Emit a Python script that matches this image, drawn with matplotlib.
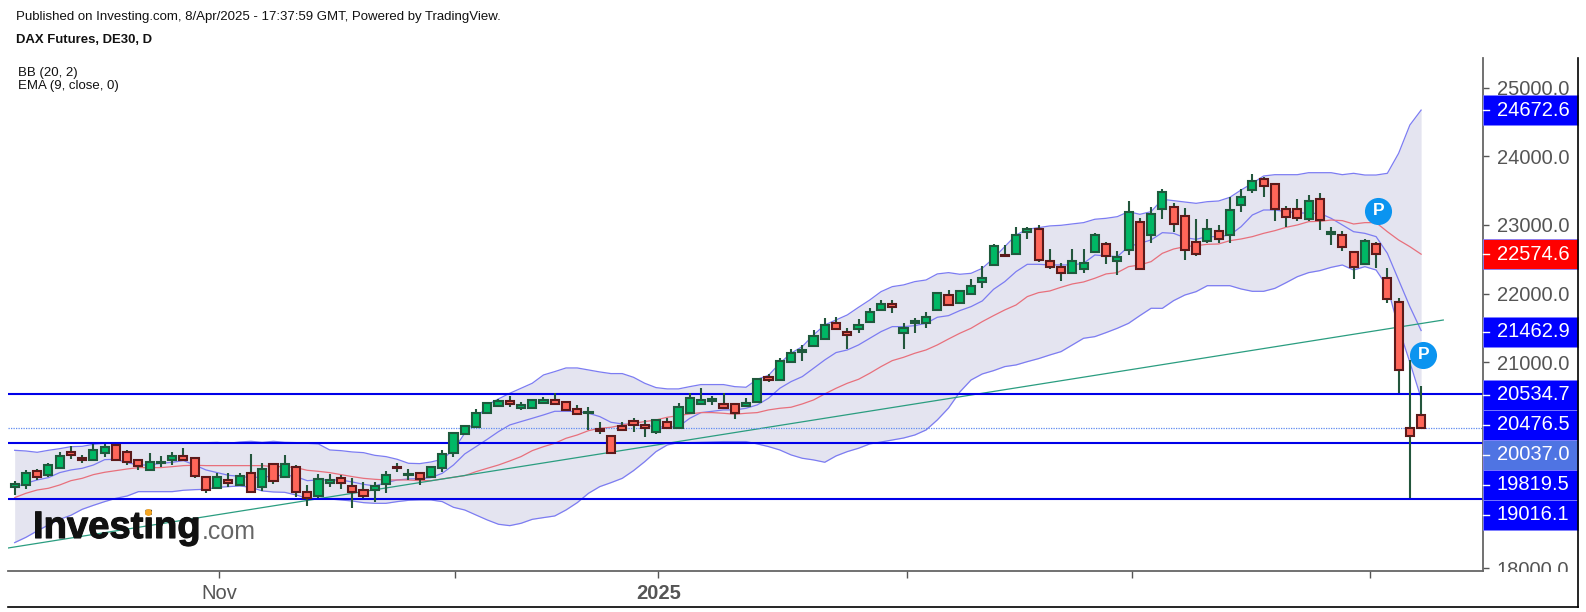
import numpy as np
import matplotlib
matplotlib.use('Agg')
import matplotlib.pyplot as plt
import matplotlib.patheffects as pe
from matplotlib.patches import Rectangle
from matplotlib.lines import Line2D

plt.rcParams['font.family'] = ['Liberation Sans', 'DejaVu Sans']

W, H = 1586, 612

# daily candles
opens = [
	19190, 19219, 19413, 19355, 19462, 19695, 19607, 19573, 19685, 19797, 19690, 19578, 19438, 19535, 19583, 19632, 19607, 19331,
	19166, 19282, 19219, 19384, 19190, 19525, 19331, 19472, 19117, 19054, 19248, 19311, 19200, 19142, 19137, 19224, 19481, 19355,
	19389, 19331, 19467, 19686, 19953, 20064, 20258, 20365, 20438, 20341, 20336, 20414, 20452, 20428, 20321, 20258, 20030, 19933,
	20069, 20152, 20093, 19982, 20127, 20045, 20258, 20399, 20443, 20399, 20399, 20360, 20418, 20787, 20748, 21001, 21151, 21238,
	21345, 21578, 21442, 21486, 21593, 21758, 21850, 21433, 21568, 21568, 21758, 21981, 21869, 22000, 22165, 22413, 22563, 22578,
	22903, 22937, 22471, 22393, 22306, 22359, 22607, 22719, 22471, 22636, 23049, 22859, 23232, 23266, 23131, 22747, 22767, 22907,
	22849, 23286, 23504, 23674, 23596, 23237, 23237, 23087, 23373, 22873, 22859, 22606, 22437, 22718, 22223, 21874, 20039, 20233]
highs = [
	19277, 19433, 19452, 19540, 19700, 19782, 19646, 19811, 19806, 19811, 19724, 19578, 19675, 19641, 19695, 19753, 19617, 19331,
	19394, 19394, 19394, 19671, 19530, 19525, 19646, 19506, 19209, 19375, 19375, 19365, 19311, 19258, 19258, 19423, 19535, 19447,
	19389, 19472, 19724, 19991, 20088, 20326, 20414, 20462, 20511, 20428, 20462, 20491, 20549, 20428, 20375, 20346, 20132, 19933,
	20132, 20185, 20161, 20181, 20185, 20404, 20549, 20622, 20515, 20549, 20399, 20486, 20753, 20836, 21059, 21200, 21253, 21471,
	21641, 21665, 21500, 21636, 21797, 21908, 21908, 21578, 21641, 21738, 22010, 22049, 22034, 22209, 22398, 22723, 22704, 22976,
	22966, 22995, 22646, 22452, 22646, 22646, 22888, 22753, 22617, 23354, 23107, 23266, 23519, 23325, 23242, 23082, 23082, 23000,
	23402, 23519, 23737, 23703, 23596, 23271, 23383, 23436, 23465, 22970, 22917, 22606, 22801, 22747, 22369, 21932, 21034, 20656]
lows = [
	19074, 19161, 19287, 19326, 19462, 19598, 19540, 19573, 19622, 19573, 19510, 19433, 19438, 19481, 19510, 19569, 19321, 19103,
	19166, 19190, 19200, 19112, 19132, 19234, 19331, 19044, 18913, 19020, 19180, 19161, 18884, 19020, 18962, 19103, 19404, 19287,
	19209, 19331, 19404, 19627, 19953, 20064, 20258, 20365, 20355, 20307, 20336, 20394, 20389, 20312, 20253, 20016, 19953, 19686,
	20011, 19982, 19919, 19953, 20025, 20045, 20258, 20389, 20384, 20326, 20171, 20360, 20418, 20714, 20748, 21001, 21015, 21238,
	21345, 21486, 21195, 21423, 21593, 21758, 21724, 21200, 21423, 21505, 21758, 21840, 21869, 22000, 22078, 22413, 22544, 22578,
	22791, 22461, 22355, 22190, 22306, 22306, 22607, 22437, 22272, 22568, 22364, 22733, 23092, 22893, 22485, 22543, 22733, 22733,
	22733, 23189, 23470, 23412, 23063, 22975, 23063, 23063, 22927, 22708, 22626, 22213, 22437, 22378, 21859, 20549, 19020, 20039]
closes = [
	19229, 19394, 19326, 19501, 19637, 19656, 19573, 19719, 19772, 19573, 19544, 19496, 19549, 19554, 19632, 19578, 19350, 19137,
	19336, 19248, 19341, 19112, 19442, 19268, 19525, 19112, 19030, 19307, 19282, 19248, 19108, 19054, 19200, 19365, 19462, 19375,
	19307, 19472, 19661, 19967, 20074, 20268, 20404, 20433, 20389, 20375, 20452, 20452, 20389, 20312, 20253, 20283, 20006, 19686,
	20011, 20093, 20045, 20156, 20045, 20346, 20481, 20457, 20462, 20336, 20258, 20409, 20753, 20744, 21025, 21137, 21175, 21384,
	21544, 21486, 21399, 21544, 21738, 21845, 21806, 21496, 21607, 21656, 22010, 21840, 22034, 22117, 22228, 22694, 22544, 22854,
	22947, 22495, 22389, 22306, 22471, 22447, 22854, 22549, 22529, 23189, 22364, 23155, 23485, 23014, 22631, 22572, 22936, 22796,
	23213, 23402, 23645, 23562, 23232, 23121, 23097, 23349, 23067, 22898, 22684, 22383, 22771, 22577, 21922, 20884, 19928, 20037]

# bollinger bands and the ema, one reading per candle
bb_upper = [
	19719, 19709, 19690, 19719, 19743, 19772, 19777, 19806, 19821, 19821, 19825, 19825, 19830, 19830, 19825, 19825, 19825, 19830,
	19835, 19821, 19840, 19850, 19835, 19850, 19835, 19831, 19821, 19811, 19724, 19714, 19695, 19685, 19646, 19627, 19588, 19530,
	19525, 19549, 19588, 19724, 19967, 20161, 20380, 20467, 20549, 20622, 20695, 20816, 20865, 20918, 20918, 20889, 20860, 20836,
	20836, 20782, 20695, 20632, 20613, 20613, 20646, 20676, 20676, 20676, 20646, 20637, 20753, 20810, 20986, 21132, 21229, 21399,
	21544, 21617, 21690, 21801, 21908, 22029, 22102, 22127, 22175, 22199, 22287, 22306, 22282, 22296, 22369, 22515, 22685, 22854,
	22937, 22961, 22986, 22995, 23015, 23034, 23083, 23097, 23121, 23194, 23155, 23194, 23373, 23354, 23334, 23315, 23339, 23349,
	23402, 23509, 23606, 23713, 23732, 23732, 23732, 23761, 23761, 23761, 23732, 23752, 23727, 23727, 23752, 24043, 24455, 24672.6]
bb_lower = [
	18375, 18452, 18545, 18632, 18714, 18773, 18860, 18918, 18972, 19020, 19054, 19117, 19117, 19117, 19117, 19137, 19146, 19151,
	19180, 19190, 19200, 19180, 19127, 19112, 19107, 19069, 19020, 19015, 19010, 18996, 18981, 18957, 18947, 18947, 18972, 18991,
	18996, 18996, 18972, 18889, 18850, 18777, 18705, 18642, 18622, 18656, 18714, 18739, 18763, 18850, 18957, 19093, 19190, 19248,
	19311, 19423, 19554, 19700, 19797, 19831, 19831, 19836, 19841, 19846, 19846, 19846, 19812, 19773, 19724, 19652, 19603, 19579,
	19545, 19637, 19700, 19749, 19812, 19840, 19869, 19898, 19942, 20015, 20161, 20335, 20568, 20743, 20831, 20879, 20938, 20962,
	21010, 21054, 21107, 21156, 21253, 21350, 21374, 21433, 21496, 21568, 21680, 21787, 21786, 21898, 21980, 22029, 22116, 22116,
	22116, 22068, 22034, 22034, 22077, 22160, 22247, 22306, 22335, 22383, 22417, 22344, 22393, 22344, 22100, 21500, 21000, 20476.5]
bb_basis = [
	19030, 19093, 19141, 19166, 19214, 19277, 19311, 19365, 19399, 19423, 19447, 19467, 19467, 19467, 19481, 19496, 19501, 19496,
	19496, 19496, 19496, 19496, 19496, 19481, 19481, 19467, 19428, 19413, 19394, 19365, 19336, 19311, 19297, 19287, 19287, 19287,
	19277, 19277, 19302, 19326, 19350, 19408, 19457, 19505, 19564, 19627, 19714, 19772, 19821, 19894, 19942, 20005, 20040, 20054,
	20088, 20113, 20137, 20161, 20200, 20224, 20249, 20268, 20268, 20258, 20244, 20258, 20268, 20307, 20331, 20346, 20394, 20452,
	20540, 20622, 20695, 20753, 20841, 20938, 21025, 21073, 21132, 21180, 21253, 21340, 21423, 21496, 21593, 21680, 21763, 21835,
	21957, 22015, 22039, 22093, 22141, 22170, 22224, 22287, 22306, 22393, 22418, 22466, 22587, 22650, 22684, 22699, 22718, 22723,
	22771, 22796, 22830, 22878, 22917, 22966, 23000, 23048, 23053, 23072, 23063, 23014, 23034, 23034, 22902, 22781, 22684, 22574.6]
ema_9 = [
	19180, 19239, 19287, 19321, 19394, 19433, 19457, 19505, 19583, 19588, 19539, 19505, 19505, 19530, 19544, 19569, 19505, 19433,
	19394, 19355, 19340, 19321, 19331, 19340, 19360, 19336, 19277, 19287, 19287, 19287, 19258, 19224, 19200, 19248, 19287, 19302,
	19306, 19321, 19384, 19505, 19666, 19772, 19879, 19991, 20088, 20137, 20185, 20234, 20287, 20287, 20283, 20258, 20210, 20127,
	20103, 20088, 20079, 20064, 20054, 20064, 20185, 20268, 20287, 20307, 20307, 20331, 20380, 20477, 20622, 20719, 20792, 20913,
	21035, 21142, 21180, 21253, 21350, 21447, 21520, 21520, 21534, 21568, 21656, 21680, 21753, 21811, 21894, 22063, 22175, 22321,
	22427, 22427, 22418, 22418, 22418, 22442, 22563, 22549, 22539, 22685, 22733, 22782, 22888, 22878, 22815, 22791, 22830, 22830,
	22854, 22975, 23145, 23218, 23218, 23194, 23179, 23169, 23169, 23097, 23000, 22902, 22878, 22830, 22587, 22199, 21811, 21462.9]

trend_x = [-0.57, 126.97]
trend_y = [18297, 21616]

levels = [20534.7, 19819.5, 19016.1]
last_price = 20037.0

# price boxes on the right axis and where the stacked boxes sit (pixel centres)
box_values = [24672.6, 22574.6, 21462.9, 20534.7, 20476.5, 20037.0, 19819.5, 19016.1]
box_colors = ['#0000ff', '#ff0000', '#0000ff', '#0000ff', '#0000ff', '#4f74e3', '#0000ff', '#0000ff']
box_centres = [110, 254, 331.7, 395, 425, 455, 485, 515]

y_ticks = [18000, 21000, 22000, 23000, 24000, 25000]
x_tick_pos = [18.17, 39.15, 57.2, 79.3, 99.3, 120.5]
x_tick_labels = ['Nov', '', '2025', '', '', '']

badges_x = [121.2, 125.2]
badges_y = [23208, 21107]

# pane edges in pixels
left, right, top, bottom = 8.3, 1483.0, 58.0, 570.7
GREY = '#555555'


def fx(x):
	return x / W


def fy(y):
	return 1 - y / H


fig = plt.figure(figsize=(W / 100, H / 100), dpi=100, facecolor='white')
ax = fig.add_axes([fx(left), fy(bottom), fx(right - left), (bottom - top) / H])
ax.set_xlim(-0.566, 130.5)
ax.set_ylim(17966, 25431)

idx = np.arange(len(closes))
ax.fill_between(idx, bb_lower, bb_upper, color='#e4e4f0', lw=0, zorder=1)
ax.plot(idx, bb_upper, color='#7c7cf2', lw=0.9, zorder=2)
ax.plot(idx, bb_lower, color='#7c7cf2', lw=0.9, zorder=2)
ax.plot(idx, ema_9, color='#7c7cf2', lw=0.9, zorder=2)
ax.plot(idx, bb_basis, color='#e8707c', lw=0.9, zorder=2)
ax.plot(trend_x, trend_y, color='#2a9d80', lw=0.9, zorder=2)

for lv in levels:
	ax.axhline(lv, color='#0000e8', lw=1.5, zorder=2.5)
ax.axhline(last_price, color='#5f8bf0', lw=0.9, ls=(0, (1, 1)), zorder=2.5)

# candles
o = np.array(opens)
c = np.array(closes)
up = c >= o
ax.vlines(idx, lows, highs, color='#23563c', lw=1.5, zorder=3)
ax.bar(idx[up], (c - o)[up], bottom=o[up], width=0.72, color='#00b865', edgecolor='#1f5a3d', lw=1.5, zorder=3.2)
ax.bar(idx[~up], (o - c)[~up], bottom=c[~up], width=0.72, color='#ff6659', edgecolor='#5c1a1a', lw=1.5, zorder=3.2)

# pivot badges
ax.plot(badges_x, badges_y, 'o', ms=19.5, color='#0b94f0', mew=0, zorder=4, clip_on=False)
for bx, by in zip(badges_x, badges_y):
	ax.text(bx, by, 'P', color='white', fontsize=12.5, fontweight='bold', ha='center', va='center', zorder=4.5)

# axes
for s in ['left', 'top']:
	ax.spines[s].set_visible(False)
for s in ['right', 'bottom']:
	ax.spines[s].set_color('#666666')
	ax.spines[s].set_linewidth(1.3)
ax.yaxis.tick_right()
ax.set_yticks(y_ticks)
ax.set_yticklabels(['%.1f' % v for v in y_ticks])
ax.tick_params(axis='y', length=4.5, width=1, color=GREY, labelcolor=GREY, labelsize=14.5, pad=5.5)
ax.set_xticks(x_tick_pos)
ax.set_xticklabels(x_tick_labels)
ax.tick_params(axis='x', length=5, width=1, color=GREY, labelcolor=GREY, labelsize=14.5, pad=4.5)
ax.get_xticklabels()[2].set_fontweight('bold')

# white mask so 18000.0 is cut off at the pane bottom like the original
ax.add_patch(Rectangle((fx(right + 1), fy(606)), fx(94), (606 - bottom - 1) / H, transform=fig.transFigure,
	color='white', lw=0, clip_on=False, zorder=5))

for val, col, yc in zip(box_values, box_colors, box_centres):
	ax.add_patch(Rectangle((fx(right), fy(yc + 15)), fx(1578 - right), 30 / H, transform=fig.transFigure,
		facecolor=col, edgecolor='#7f7fff', lw=0.6, clip_on=False, zorder=6))
	ax.add_line(Line2D([fx(right), fx(right + 6)], [fy(yc), fy(yc)], transform=fig.transFigure, color='white', lw=1,
		clip_on=False, zorder=7))
	ax.text(fx(1496.7), fy(yc), '%.1f' % val, transform=fig.transFigure, color='white', fontsize=14.5, ha='left',
		va='center', clip_on=False, zorder=7)

# outer frame
fig.add_artist(Line2D([fx(1578), fx(1578)], [fy(58), fy(607)], color='black', lw=1.2))
fig.add_artist(Line2D([fx(8), fx(1578)], [fy(607), fy(607)], color='black', lw=1.2))

# header
fig.text(fx(16.5), fy(17.3), 'Published on Investing.com, 8/Apr/2025 - 17:37:59 GMT, Powered by TradingView.',
	fontsize=9.55, color='#111111', va='center')
fig.text(fx(16), fy(40), 'DAX Futures, DE30, D', fontsize=9.45, fontweight='bold', color='#111111', va='center')
fig.text(fx(18), fy(73), 'BB (20, 2)', fontsize=9.55, color='#111111', va='center')
fig.text(fx(18), fy(86), 'EMA (9, close, 0)', fontsize=9.55, color='#111111', va='center')

# logo
fig.text(fx(33), fy(538), 'Investing', fontsize=27.5, fontweight='bold', color='#111111', va='baseline', zorder=6,
	path_effects=[pe.withStroke(linewidth=0.8, foreground='#111111')])
fig.text(fx(202), fy(539), '.com', fontsize=18, color='#666666', va='baseline', zorder=6)
fig.add_artist(Line2D([fx(148)], [fy(512)], marker='o', ms=5, color='#f5a623', mew=0, zorder=7))

fig.savefig('out.png', dpi=100)
